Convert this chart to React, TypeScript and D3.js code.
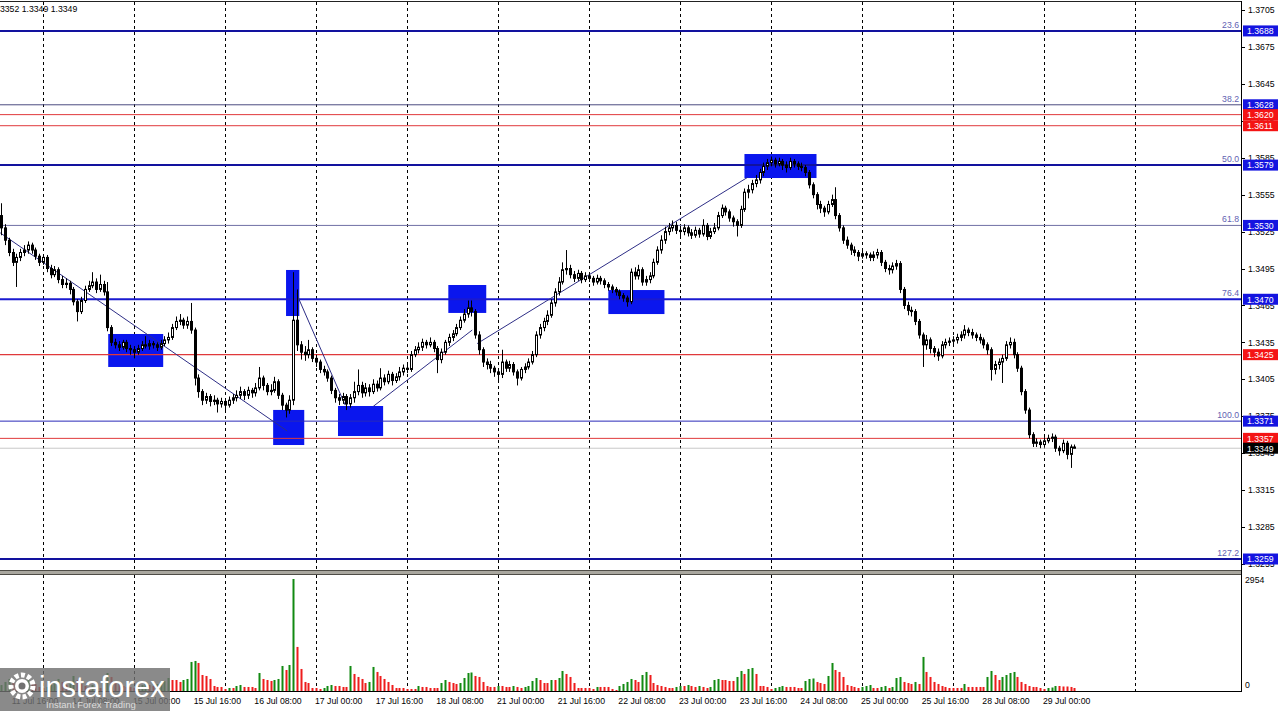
import React from "react";
import * as d3 from "d3";

// ---------- DATA (prices in pips: 13528 = 1.3528) ----------
const opens = [
13538,13528,13518,13508,13500,13504,13508,13510,13514,13510,
13505,13500,13504,13495,13490,13494,13486,13482,13483,13478,
13468,13460,13469,13478,13481,13484,13478,13482,13476,13447,
13435,13433,13431,13435,13430,13429,13427,13430,13433,13432,
13434,13433,13431,13434,13437,13439,13447,13452,13453,13449,
13452,13445,13406,13395,13388,13391,13387,13388,13385,13387,
13384,13388,13390,13392,13395,13392,13396,13394,13398,13406,
13400,13395,13396,13403,13392,13384,13380,13388,13453,13433,
13427,13425,13429,13422,13419,13413,13411,13406,13396,13390,
13388,13391,13385,13390,13395,13400,13394,13398,13395,13401,
13398,13406,13403,13409,13404,13407,13411,13414,13413,13425,
13429,13431,13435,13433,13435,13430,13421,13427,13435,13439,
13442,13447,13453,13458,13463,13460,13441,13429,13419,13417,
13414,13411,13409,13419,13414,13417,13411,13406,13413,13415,
13419,13425,13441,13447,13452,13457,13467,13476,13484,13494,
13495,13490,13487,13491,13486,13489,13487,13484,13487,13485,
13482,13480,13478,13476,13473,13471,13468,13492,13489,13494,
13484,13486,13489,13500,13510,13518,13525,13528,13530,13526,
13525,13528,13524,13522,13526,13523,13530,13521,13525,13528,
13538,13544,13541,13536,13533,13530,13543,13557,13559,13564,
13567,13573,13578,13581,13583,13580,13582,13579,13577,13582,
13580,13578,13577,13573,13563,13555,13547,13544,13541,13547,
13551,13538,13528,13518,13514,13510,13508,13505,13507,13506,
13504,13506,13508,13500,13495,13494,13497,13499,13478,13465,
13461,13460,13452,13441,13433,13437,13430,13427,13424,13433,
13435,13436,13437,13439,13441,13445,13443,13441,13439,13437,
13433,13429,13413,13417,13419,13422,13433,13435,13425,13414,
13395,13380,13360,13353,13354,13352,13355,13357,13358,13349,
13347,13353,13344,13350];

const highs = [
13548,13531,13520,13511,13507,13511,13514,13517,13516,13512,
13507,13506,13506,13498,13497,13496,13489,13487,13485,13480,
13470,13472,13481,13485,13492,13487,13490,13485,13484,13449,
13438,13436,13437,13437,13433,13432,13433,13436,13440,13437,
13436,13435,13437,13440,13443,13450,13456,13458,13455,13456,
13467,13447,13409,13397,13394,13393,13392,13390,13390,13389,
13391,13393,13396,13399,13397,13399,13398,13402,13415,13408,
13402,13401,13407,13405,13394,13386,13392,13492,13478,13436,
13432,13437,13431,13425,13421,13416,13413,13408,13398,13393,
13394,13393,13393,13403,13413,13403,13402,13401,13405,13404,
13414,13409,13412,13411,13410,13415,13417,13418,13428,13432,
13435,13438,13437,13439,13437,13432,13430,13437,13442,13445,
13450,13456,13462,13469,13469,13462,13444,13431,13422,13420,
13416,13414,13429,13421,13420,13419,13413,13415,13418,13422,
13428,13444,13450,13455,13461,13470,13479,13488,13500,13510,
13498,13493,13494,13493,13492,13491,13489,13490,13489,13487,
13484,13482,13480,13478,13475,13473,13495,13496,13498,13496,
13489,13492,13503,13513,13522,13529,13532,13534,13533,13529,
13531,13530,13527,13529,13528,13535,13532,13528,13532,13541,
13547,13546,13543,13538,13535,13546,13560,13563,13567,13571,
13576,13581,13584,13586,13585,13585,13584,13582,13585,13584,
13582,13581,13579,13575,13565,13557,13550,13546,13550,13555,
13561,13540,13530,13521,13516,13513,13510,13510,13509,13508,
13509,13511,13510,13502,13498,13500,13502,13501,13480,13468,
13464,13462,13454,13443,13441,13439,13432,13430,13436,13438,
13439,13440,13442,13444,13449,13447,13446,13443,13442,13439,
13435,13431,13420,13422,13425,13436,13439,13438,13427,13416,
13397,13382,13362,13357,13356,13358,13360,13361,13360,13351,
13356,13355,13352,13352];

const lows = [
13522,13514,13505,13497,13480,13501,13505,13507,13507,13502,
13497,13498,13492,13487,13488,13483,13479,13479,13474,13465,
13452,13458,13467,13476,13479,13475,13476,13473,13444,13432,
13430,13428,13429,13427,13425,13422,13425,13428,13430,13429,
13430,13428,13429,13432,13434,13437,13445,13449,13446,13446,
13442,13400,13390,13384,13385,13383,13384,13378,13382,13379,
13382,13385,13387,13389,13388,13389,13390,13391,13396,13396,
13392,13392,13394,13389,13380,13374,13377,13384,13428,13421,
13420,13422,13419,13415,13410,13408,13403,13393,13386,13384,
13385,13380,13382,13386,13392,13390,13391,13391,13393,13395,
13396,13400,13401,13400,13402,13404,13408,13410,13411,13423,
13426,13428,13430,13431,13427,13410,13418,13425,13432,13436,
13440,13445,13451,13455,13456,13438,13425,13415,13413,13410,
13407,13403,13406,13411,13411,13408,13400,13404,13410,13413,
13417,13423,13438,13444,13449,13455,13464,13473,13482,13490,
13487,13484,13485,13483,13484,13484,13481,13482,13482,13479,
13477,13475,13473,13470,13468,13464,13466,13486,13486,13481,
13481,13483,13487,13498,13507,13515,13522,13525,13523,13521,
13522,13521,13519,13520,13520,13521,13518,13519,13523,13526,
13536,13538,13533,13529,13521,13528,13541,13552,13556,13561,
13564,13570,13575,13578,13577,13578,13575,13573,13575,13577,
13575,13574,13570,13560,13552,13543,13540,13537,13539,13545,
13535,13525,13515,13511,13506,13505,13501,13503,13503,13501,
13501,13503,13497,13492,13490,13491,13494,13475,13462,13457,
13456,13449,13438,13415,13429,13426,13423,13420,13422,13430,
13432,13433,13434,13436,13438,13440,13438,13436,13434,13430,
13425,13404,13409,13413,13402,13420,13430,13422,13411,13392,
13377,13357,13350,13350,13349,13350,13353,13354,13346,13343,
13345,13340,13333,13349];

const closes = [
13528,13518,13508,13500,13504,13508,13510,13514,13510,13505,
13500,13504,13495,13490,13494,13486,13482,13483,13478,13468,
13460,13469,13478,13481,13484,13478,13482,13476,13447,13435,
13433,13431,13435,13430,13429,13427,13430,13433,13432,13434,
13433,13431,13434,13437,13439,13447,13452,13453,13449,13452,
13445,13406,13395,13388,13391,13387,13388,13385,13387,13384,
13388,13390,13392,13395,13392,13396,13394,13398,13406,13400,
13395,13396,13403,13392,13384,13380,13388,13453,13433,13427,
13425,13429,13422,13419,13413,13411,13406,13396,13390,13388,
13391,13385,13390,13395,13400,13394,13398,13395,13401,13398,
13406,13403,13409,13404,13407,13411,13414,13413,13425,13429,
13431,13435,13433,13435,13430,13421,13427,13435,13439,13442,
13447,13453,13458,13463,13460,13441,13429,13419,13417,13414,
13411,13409,13419,13414,13417,13411,13406,13413,13415,13419,
13425,13441,13447,13452,13457,13467,13476,13484,13494,13495,
13490,13487,13491,13486,13489,13487,13484,13487,13485,13482,
13480,13478,13476,13473,13471,13468,13492,13489,13494,13484,
13486,13489,13500,13510,13518,13525,13528,13530,13526,13525,
13528,13524,13522,13526,13523,13530,13521,13525,13528,13538,
13544,13541,13536,13533,13530,13543,13557,13559,13564,13567,
13573,13578,13581,13583,13580,13582,13579,13577,13582,13580,
13578,13577,13573,13563,13555,13547,13544,13541,13547,13551,
13538,13528,13518,13514,13510,13508,13505,13507,13506,13504,
13506,13508,13500,13495,13494,13497,13499,13478,13465,13461,
13460,13452,13441,13433,13437,13430,13427,13424,13433,13435,
13436,13437,13439,13441,13445,13443,13441,13439,13437,13433,
13429,13413,13417,13419,13422,13433,13435,13425,13414,13395,
13380,13360,13353,13354,13352,13355,13357,13358,13349,13347,
13353,13344,13350,13349];

const volumes = [
158,238,317,211,158,132,264,370,238,185,
106,79,106,158,211,317,238,158,264,396,
290,185,132,106,158,132,79,211,475,370,
238,185,132,106,106,79,132,158,211,158,
132,185,238,264,343,290,290,238,290,317,
766,792,739,422,396,317,132,106,106,53,
79,79,132,158,106,106,106,79,475,317,
290,264,290,317,660,554,686,2954,1162,581,
238,211,79,79,53,79,132,158,132,132,
106,106,660,449,370,317,211,238,634,502,
396,317,238,158,79,79,79,53,53,53,
132,106,106,79,79,79,211,290,238,211,
185,211,343,475,488,396,370,238,132,106,
106,132,132,106,106,132,106,79,106,132,
264,343,290,211,211,290,290,343,528,449,
370,211,79,79,79,79,53,106,106,106,
106,53,26,132,185,238,317,290,238,422,
502,422,211,158,132,106,79,79,106,132,
132,158,132,106,132,106,79,106,290,317,
290,290,264,264,370,528,449,581,607,449,
132,132,106,53,79,106,132,106,106,106,
79,79,264,317,330,238,211,185,396,739,
554,502,370,158,132,106,79,106,132,158,
79,79,106,132,79,106,343,370,238,211,
185,238,185,898,502,370,238,185,132,106,
79,79,79,79,185,106,106,106,106,106,
370,528,422,290,370,422,475,502,370,238,
185,132,106,106,79,53,79,92,132,132,
119,119,106,79];

// time axis: bar index of each label / day separator
const labelBars = [3, 19, 35, 51, 67, 83, 99, 115, 131, 147, 163, 179, 195, 211, 227, 243, 259, 275];
const labelTexts = [
  "11 Jul 16:00", "14 Jul 08:00", "15 Jul 00:00", "15 Jul 16:00", "16 Jul 08:00", "17 Jul 00:00",
  "17 Jul 16:00", "18 Jul 08:00", "21 Jul 00:00", "21 Jul 16:00", "22 Jul 08:00", "23 Jul 00:00",
  "23 Jul 16:00", "24 Jul 08:00", "25 Jul 00:00", "25 Jul 16:00", "28 Jul 08:00", "29 Jul 00:00",
];
const dayStartBars = [11, 35, 59, 83, 107, 131, 155, 179, 203, 227, 251, 275, 299];

// price axis ticks
const priceTicks = [1.3255, 1.3285, 1.3315, 1.3345, 1.3375, 1.3405, 1.3435, 1.3465, 1.3495, 1.3525, 1.3555, 1.3585, 1.3615, 1.3645, 1.3675, 1.3705];

// Fibonacci levels
const fibPrices = [1.3688, 1.3628, 1.3579, 1.353, 1.347, 1.3371, 1.3259];
const fibNames = ["23.6", "38.2", "50.0", "61.8", "76.4", "100.0", "127.2"];
// red horizontal levels
const redLevels = [1.362, 1.3611, 1.3425, 1.3357];
const lastPrice = 1.3349;
const volumeMax = 2954;

// zones (bar from, bar to, price high, price low)
const zoneFrom = [28.2, 75.1, 71.7, 88.8, 117.9, 160.1, 196];
const zoneTo = [42.7, 78.6, 79.9, 100.7, 127.9, 174.9, 215];
const zoneHigh = [1.34418, 1.34938, 1.33801, 1.33833, 1.34816, 1.34775, 1.3588];
const zoneLow = [1.3415, 1.34564, 1.33516, 1.33589, 1.34589, 1.3458, 1.35685];

// trend lines (bar, price) -> (bar, price)
const trendBar1 = [-0.3, 77.8, 98.1, 125.5];
const trendPrice1 = [1.3524, 1.3475, 1.3383, 1.3434];
const trendBar2 = [75.4, 90.7, 124.2, 196.8];
const trendPrice2 = [1.3363, 1.3384, 1.3445, 1.3569];

// ---------- STYLE ----------
const FONT = '"Liberation Sans", Arial, sans-serif';
const fibStroke = ["#12129e", "#4c4c80", "#12129e", "#7070a4", "#1a1ad0", "#2a2ab8", "#12129e"];
const fibWidth = [2, 1, 2, 1, 2, 1, 2];

export default function App() {
  const PLOT_R = 1241;
  const PRICE_TOP = 2;
  const PRICE_BOT = 570;
  const VOL_TOP = 575;
  const VOL_BOT = 691;

  const x = d3.scaleLinear().domain([11, 275]).range([43, 1044]);
  const y = d3.scaleLinear().domain([1.3285, 1.3705]).range([527, 10]);
  const yv = d3.scaleLinear().domain([0, volumeMax]).range([VOL_BOT, 579]);
  const p = (v: number) => v / 10000;
  const fmt = d3.format(".4f");

  const trendLine = d3.line<[number, number]>().x((d) => x(d[0])).y((d) => y(d[1]));

  return (
    <div style={{ position: "absolute", left: 0, top: 0, width: 1280, height: 711, background: "#fff", overflow: "hidden" }}>
      <svg width={1280} height={711} style={{ display: "block", fontFamily: FONT }}>
        <defs>
          <clipPath id="pricePane">
            <rect x={0} y={PRICE_TOP} width={PLOT_R} height={PRICE_BOT - PRICE_TOP} />
          </clipPath>
          <clipPath id="volPane">
            <rect x={0} y={VOL_TOP} width={PLOT_R} height={VOL_BOT - VOL_TOP} />
          </clipPath>
        </defs>
        <rect x={0} y={0} width={1280} height={711} fill="#fff" />

        {/* vertical dotted grid */}
        {dayStartBars.map((b) => {
          const gx = Math.round(x(b)) + 0.5;
          return (
            <g key={"g" + b}>
              <line x1={gx} x2={gx} y1={PRICE_TOP} y2={PRICE_BOT} stroke="#000" strokeDasharray="3,3" strokeWidth={1} />
              <line x1={gx} x2={gx} y1={VOL_TOP} y2={VOL_BOT} stroke="#000" strokeDasharray="3,3" strokeWidth={1} />
            </g>
          );
        })}

        <g clipPath="url(#pricePane)">
          {/* zones */}
          {zoneFrom.map((z, k) => (
            <rect
              key={"z" + k}
              x={x(z)}
              y={y(zoneHigh[k])}
              width={x(zoneTo[k]) - x(z)}
              height={y(zoneLow[k]) - y(zoneHigh[k])}
              fill="#0a16ee"
            />
          ))}

          {/* horizontal levels */}
          <line x1={0} x2={PLOT_R} y1={y(lastPrice)} y2={y(lastPrice)} stroke="#c8c8c8" strokeWidth={1} />
          {redLevels.map((r, k) => (
            <line key={"r" + k} x1={0} x2={PLOT_R} y1={y(r)} y2={y(r)} stroke="#e0393b" strokeWidth={k === 2 ? 1.4 : 1} />
          ))}
          {fibPrices.map((f, k) => (
            <line key={"f" + k} x1={0} x2={PLOT_R} y1={y(f)} y2={y(f)} stroke={fibStroke[k]} strokeWidth={fibWidth[k]} />
          ))}

          {/* trend lines */}
          {trendBar1.map((b, k) => (
            <path
              key={"t" + k}
              d={trendLine([[b, trendPrice1[k]], [trendBar2[k], trendPrice2[k]]]) || ""}
              stroke="#2e2e86"
              strokeWidth={1}
              fill="none"
            />
          ))}

          {/* candles */}
          {closes.map((c, i) => {
            const o = opens[i];
            const up = c >= o;
            const cx = Math.round(x(i)) + 0.5;
            const yTop = y(p(Math.max(o, c)));
            const yBot = y(p(Math.min(o, c)));
            return (
              <g key={"c" + i}>
                <line x1={cx} x2={cx} y1={y(p(highs[i]))} y2={y(p(lows[i]))} stroke="#000" strokeWidth={1} />
                <rect
                  x={cx - 1}
                  y={yTop}
                  width={2}
                  height={Math.max(yBot - yTop, 0.5)}
                  fill={up ? "#fff" : "#000"}
                  stroke="#000"
                  strokeWidth={1}
                />
              </g>
            );
          })}

          {/* fib labels */}
          {fibPrices.map((f, k) => (
            <text key={"fl" + k} x={PLOT_R - 2} y={y(f) - 3} textAnchor="end" fontSize={8.7} fill="#6262b2">
              {fibNames[k]}
            </text>
          ))}
        </g>

        {/* header */}
        <text x={-7.3} y={12} fontSize={8.7} fill="#000">1.3352 1.3349 1.3349</text>

        {/* volume bars */}
        <g clipPath="url(#volPane)">
          {volumes.map((v, i) => {
            const prev = i > 0 ? volumes[i - 1] : 0;
            const bx = Math.round(x(i)) - 0.5;
            return (
              <rect
                key={"v" + i}
                x={bx}
                y={yv(v)}
                width={2}
                height={VOL_BOT - yv(v)}
                fill={v > prev ? "#128a12" : "#ee1c1c"}
              />
            );
          })}
        </g>

        {/* frame */}
        <line x1={0} x2={PLOT_R} y1={1.5} y2={1.5} stroke="#222" strokeWidth={1} />
        <line x1={PLOT_R + 0.5} x2={PLOT_R + 0.5} y1={1} y2={VOL_BOT + 1} stroke="#000" strokeWidth={1} />
        <line x1={0} x2={PLOT_R} y1={VOL_BOT + 0.5} y2={VOL_BOT + 0.5} stroke="#000" strokeWidth={1} />
        {/* pane separator */}
        <rect x={0} y={570.5} width={PLOT_R} height={3.5} fill="#a9a79f" />
        <line x1={0} x2={PLOT_R} y1={570.5} y2={570.5} stroke="#4e4c46" strokeWidth={1} />
        <line x1={0} x2={PLOT_R} y1={574.5} y2={574.5} stroke="#4e4c46" strokeWidth={1} />

        {/* price axis */}
        {priceTicks.map((t) => (
          <g key={"pt" + t}>
            <line x1={PLOT_R + 1} x2={PLOT_R + 4} y1={Math.round(y(t)) + 0.5} y2={Math.round(y(t)) + 0.5} stroke="#000" />
            <text x={PLOT_R + 7} y={y(t) + 3.2} fontSize={8.7} fill="#000">{fmt(t)}</text>
          </g>
        ))}

        {/* level boxes */}
        {fibPrices.map((f, k) => (
          <g key={"fb" + k}>
            <rect x={PLOT_R + 2} y={y(f) - 5.5} width={35} height={11} fill="#1414e0" />
            <text x={PLOT_R + 6} y={y(f) + 3.3} fontSize={8.7} fill="#fff">{fmt(f)}</text>
          </g>
        ))}
        {redLevels.map((r, k) => (
          <g key={"rb" + k}>
            <rect x={PLOT_R + 2} y={y(r) - 5.5} width={35} height={11} fill="#f41414" />
            <text x={PLOT_R + 6} y={y(r) + 3.3} fontSize={8.7} fill="#fff">{fmt(r)}</text>
          </g>
        ))}
        <rect x={PLOT_R + 2} y={y(lastPrice) - 5.5} width={35} height={11} fill="#000" />
        <text x={PLOT_R + 6} y={y(lastPrice) + 3.3} fontSize={8.7} fill="#fff">{fmt(lastPrice)}</text>

        {/* volume axis */}
        <text x={PLOT_R + 4} y={yv(volumeMax) + 4} fontSize={8.7} fill="#000">{volumeMax}</text>
        <text x={PLOT_R + 4} y={yv(0) - 3} fontSize={8.7} fill="#000">0</text>

        {/* time axis */}
        {labelBars.map((b, k) => (
          <text key={"tl" + k} x={x(b) - 1} y={704} fontSize={8.7} fill="#000">{labelTexts[k]}</text>
        ))}

        {/* watermark logo */}
        <g>
          <rect x={0} y={668} width={170} height={43} fill="#707070" fillOpacity={0.82} />
          <circle cx={22} cy={686} r={11} fill="none" stroke="#ffffff" strokeWidth={5} strokeDasharray="4,2.3" />
          <circle cx={22} cy={686} r={7} fill="#ffffff" />
          <circle cx={22} cy={686} r={3.5} fill="#707070" />
          <text x={39} y={697} fontSize={29} fill="#ffffff" fontFamily={FONT}>instaforex</text>
          <text x={46} y={708} fontSize={9.5} fill="#dcdcdc" fontFamily={FONT}>Instant Forex Trading</text>
        </g>
      </svg>
    </div>
  );
}
